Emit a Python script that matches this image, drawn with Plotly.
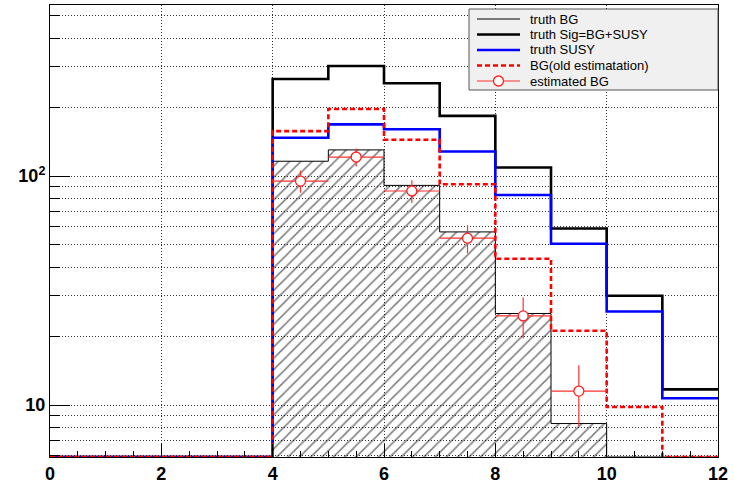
import numpy as np
import plotly.graph_objects as go

# Bin edges (unit-width bins from 0 to 12)
bin_edges = list(range(0, 13))

# Histogram contents per bin
truth_bg = [0, 0, 0, 0, 116, 130, 91, 57, 25.1, 8.3, 0, 0]
truth_sig = [0, 0, 0, 0, 265, 302, 254, 183, 109, 59, 30, 11.7]
truth_susy = [0, 0, 0, 0, 147, 168, 160, 128, 82.6, 50.6, 25.6, 10.7]
bg_old = [0, 0, 0, 0, 157, 196, 144, 92, 43.5, 21.1, 9.8, 0]

# Estimated background (points with errors) in bins 4..9
est_centers = [4.5, 5.5, 6.5, 7.5, 8.5, 9.5]
est_bg = [95, 121, 86, 53.5, 24.5, 11.5]
est_err = [10.5, 11, 9.8, 7.5, 5, 3.4]

# Legend labels
legend_labels = ["truth BG", "truth Sig=BG+SUSY", "truth SUSY", "BG(old estimatation)", "estimated BG"]

# Axis ranges and ticks
x_range = [0, 12]
y_min, y_max = 5.93, 558
x_ticks = [0, 2, 4, 6, 8, 10, 12]
y_ticks = [10, 100]
y_ticktext = ["10", "10<sup>2</sup>"]
y_minor = [6, 7, 8, 9, 20, 30, 40, 50, 60, 70, 80, 90, 200, 300, 400, 500]

y_lo, y_hi = np.log10(y_min), np.log10(y_max)
floor = 10 ** y_lo

# Canvas / frame geometry in pixels
W, H = 734, 485
M_L, M_R, M_T, M_B = 50, 16, 5, 28
PW, PH = W - M_L - M_R, H - M_T - M_B

# Line styles
sty_bg = dict(color="black", width=1)
sty_sig = dict(color="black", width=2.6)
sty_susy = dict(color="#0000ff", width=2.6)
sty_old = dict(color="#ff0000", width=2.6, dash="5px,3px")
sty_est = dict(color="#ff3030", width=1.2)
est_marker = dict(symbol="circle", size=10, color="white", line=dict(color="#ff2020", width=1.3))


def step(values):
    """Step-curve points for a histogram; empty bins sit on the axis floor."""
    v = np.maximum(np.asarray(values, dtype=float), floor)
    return bin_edges, list(v) + [v[-1]]


fig = go.Figure()

# truth BG: thin outline
xs, ys = step(truth_bg)
fig.add_trace(go.Scatter(x=xs, y=ys, mode="lines", line=dict(**sty_bg, shape="hv"),
                         name=legend_labels[0]))
# hatched fill between the axis floor and the truth BG outline
fig.add_trace(go.Scatter(x=xs, y=[floor] * len(xs), mode="lines",
                         line=dict(width=0, shape="hv"), fill="tonexty",
                         fillcolor="rgba(0,0,0,0)",
                         fillpattern=dict(shape="/", size=8, solidity=0.19, fgcolor="#000000",
                                          bgcolor="rgba(0,0,0,0)"),
                         hoverinfo="skip"))

xs, ys = step(truth_sig)
fig.add_trace(go.Scatter(x=xs, y=ys, mode="lines", line=dict(**sty_sig, shape="hv"),
                         name=legend_labels[1]))

xs, ys = step(truth_susy)
fig.add_trace(go.Scatter(x=xs, y=ys, mode="lines", line=dict(**sty_susy, shape="hv"),
                         name=legend_labels[2]))

xs, ys = step(bg_old)
fig.add_trace(go.Scatter(x=xs, y=ys, mode="lines", line=dict(**sty_old, shape="hv"),
                         name=legend_labels[3]))

# estimated BG points with bin-width horizontal bars and vertical errors
fig.add_trace(go.Scatter(x=est_centers, y=est_bg, mode="markers", marker=est_marker,
                         error_y=dict(type="data", array=est_err, color="#ff3030", thickness=1.2, width=0),
                         error_x=dict(type="data", array=[0.5] * len(est_centers), color="#ff3030",
                                      thickness=1.2, width=0),
                         name=legend_labels[4]))

tick_font = dict(family="Liberation Sans", size=18, color="black", weight="bold")
grid_dash = "1px,2px"

fig.update_xaxes(range=x_range, tickmode="array", tickvals=x_ticks, ticks="inside", ticklen=13,
                 tickcolor="black", tickfont=tick_font, showgrid=True, gridcolor="#333333",
                 griddash=grid_dash, gridwidth=1, showline=True, mirror=True, linecolor="black",
                 linewidth=1, zeroline=False, automargin=False,
                 minor=dict(ticks="inside", ticklen=6, dtick=0.5, tickcolor="black", showgrid=False))
fig.update_yaxes(type="log", range=[y_lo, y_hi], tickmode="array", tickvals=y_ticks,
                 ticktext=y_ticktext, ticks="inside", ticklen=20, tickcolor="black",
                 tickfont=tick_font, showgrid=True, gridcolor="#333333", griddash=grid_dash,
                 gridwidth=1, showline=True, mirror=True, linecolor="black", linewidth=1,
                 zeroline=False, automargin=False,
                 minor=dict(tickvals=y_minor, ticks="inside", ticklen=10, tickcolor="black",
                            showgrid=True, gridcolor="#333333", griddash=grid_dash, gridwidth=1))


# ROOT-style legend box in the top-right corner (pixel layout -> paper coordinates)
def px(x):
    return (x - M_L) / PW


def py(y):
    return (H - M_B - y) / PH


box_l, box_r, box_t, box_b = 469, 718, 9, 90
row_y = [19, 34.5, 50, 65.5, 81]
samp_l, samp_r, text_l = 477, 520, 528

shapes = [dict(type="rect", xref="paper", yref="paper", x0=px(box_l), x1=px(box_r),
               y0=py(box_b), y1=py(box_t), fillcolor="#f0f0f0",
               line=dict(color="#555555", width=1), layer="above")]
annotations = []
for lab, sty, ry in zip(legend_labels, [sty_bg, sty_sig, sty_susy, sty_old, sty_est], row_y):
    ln = dict(color=sty["color"], width=sty["width"])
    if "dash" in sty:
        ln["dash"] = sty["dash"]
    shapes.append(dict(type="line", xref="paper", yref="paper", x0=px(samp_l), x1=px(samp_r),
                       y0=py(ry), y1=py(ry), line=ln, layer="above"))
    annotations.append(dict(text=lab, xref="paper", yref="paper", x=px(text_l), y=py(ry),
                            xanchor="left", yanchor="middle", showarrow=False,
                            font=dict(family="Liberation Sans", size=13, color="black")))
# open-circle marker on the estimated BG sample line
shapes.append(dict(type="circle", xref="paper", yref="paper", xsizemode="pixel", ysizemode="pixel",
                   xanchor=px((samp_l + samp_r) / 2), yanchor=py(row_y[-1]),
                   x0=-5, x1=5, y0=-5, y1=5, fillcolor="white",
                   line=dict(color="#ff2020", width=1.3), layer="above"))

fig.update_layout(
    width=W, height=H,
    margin=dict(l=M_L, r=M_R, t=M_T, b=M_B),
    plot_bgcolor="white", paper_bgcolor="white",
    showlegend=False,
    shapes=shapes,
    annotations=annotations,
)

fig.write_html("out.html")
